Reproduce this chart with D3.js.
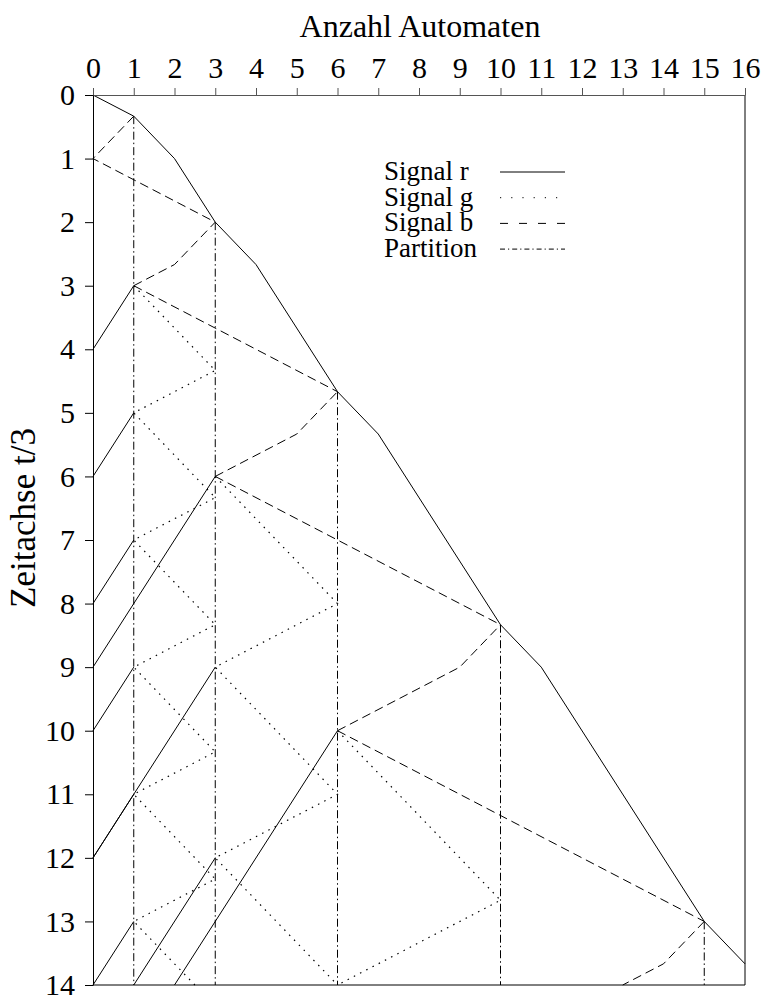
<!DOCTYPE html>
<html>
<head>
<meta charset="utf-8">
<script src="https://cdn.jsdelivr.net/npm/d3@7"></script>
<style>
  body { margin: 0; background: #fff; }
  text { font-family: "Liberation Serif", "Times New Roman", serif; fill: #000; }
</style>
</head>
<body>
<svg id="svg" width="765" height="996"></svg>
<script>
var xTicks = [0, 1, 2, 3, 4, 5, 6, 7, 8, 9, 10, 11, 12, 13, 14, 15, 16];
var yTicks = [0, 1, 2, 3, 4, 5, 6, 7, 8, 9, 10, 11, 12, 13, 14];

// signal r (solid)
var signalR = [
  [[0, 0], [1, 0.333], [2, 1], [3, 2], [4, 2.667], [6, 4.667], [7, 5.333], [10, 8.333], [11, 9], [15, 13], [16, 13.667]],
  [[0, 4], [1, 3]],
  [[0, 6], [1, 5]],
  [[0, 8], [1, 7]],
  [[0, 9], [3, 6]],
  [[0, 10], [1, 9]],
  [[0, 12], [1, 11]],
  [[0, 12], [3, 9]],
  [[0, 14], [1, 13]],
  [[1, 14], [3, 12]],
  [[2, 14], [6, 10]]
];

// signal g (dotted)
var signalG = [
  [[1, 3], [3, 4.333], [1, 5], [3, 6.333], [1, 7], [3, 8.333], [1, 9], [3, 10.333], [1, 11], [3, 12.333], [1, 13], [2.5, 14]],
  [[3, 6], [6, 8], [3, 9], [6, 11], [3, 12], [6, 14]],
  [[6, 10], [10, 12.667], [6, 14]]
];

// signal b (dashed)
var signalB = [
  [[1, 0.333], [0, 1], [3, 2]],
  [[1, 3], [2, 2.667], [3, 2]],
  [[1, 3], [6, 4.667]],
  [[3, 6], [5, 5.333], [6, 4.667]],
  [[3, 6], [10, 8.333]],
  [[6, 10], [9, 9], [10, 8.333]],
  [[6, 10], [15, 13]],
  [[15, 13], [14, 13.667], [13, 14]]
];

// partition boundaries (dash-dot), start point
var partitions = [[1, 0.333], [3, 2], [6, 4.667], [10, 8.333], [15, 13]];
var tEnd = 14;

var legendNames = ["Signal r", "Signal g", "Signal b", "Partition"];

var svg = d3.select("#svg");
var x = d3.scaleLinear().domain([0, 16]).range([93, 745]);
var y = d3.scaleLinear().domain([0, 14]).range([95, 985]);

var styles = {
  r: { dash: null, w: 1 },
  g: { dash: "1.5,5.5", w: 1.2 },
  b: { dash: "9,5", w: 1 },
  p: { dash: "8,3,1.5,3", w: 1 }
};

var line = d3.line()
  .x(function(d) { return x(d[0]); })
  .y(function(d) { return y(d[1]); });

function drawSet(data, st) {
  svg.append("g").selectAll("path").data(data).enter()
    .append("path")
    .attr("d", line)
    .attr("fill", "none")
    .attr("stroke", "#000")
    .attr("stroke-width", st.w)
    .attr("stroke-dasharray", st.dash);
}

drawSet(partitions.map(function(p) { return [p, [p[0], tEnd]]; }), styles.p);
drawSet(signalB, styles.b);
drawSet(signalG, styles.g);
drawSet(signalR, styles.r);

// frame
svg.append("line").attr("x1", x(16)).attr("x2", x(16)).attr("y1", y(0)).attr("y2", y(14))
  .attr("stroke", "#000");
svg.append("line").attr("x1", x(0)).attr("x2", x(16)).attr("y1", y(14)).attr("y2", y(14))
  .attr("stroke", "#000");

// axes
var topAxis = svg.append("g").attr("transform", "translate(0," + y(0) + ")")
  .call(d3.axisTop(x).tickValues(xTicks).tickSize(7).tickSizeOuter(0).tickPadding(10));
topAxis.select(".domain").attr("stroke", "#555");
topAxis.selectAll(".tick line").attr("stroke", "#555");
topAxis.selectAll("text").style("font-size", "30px").attr("font-family", null);

var leftAxis = svg.append("g").attr("transform", "translate(" + x(0) + ",0)")
  .call(d3.axisLeft(y).tickValues(yTicks).tickSize(8).tickSizeOuter(0).tickPadding(10));
leftAxis.selectAll("text").style("font-size", "30px").attr("font-family", null);

svg.append("text").attr("x", 420).attr("y", 37).attr("text-anchor", "middle")
  .style("font-size", "32px").text("Anzahl Automaten");

svg.append("text").attr("transform", "translate(35,518) rotate(-90)")
  .attr("text-anchor", "middle").style("font-size", "35px").text("Zeitachse t/3");

// legend
var legendDash = [null, "1.2,10", "8,11", "5,3,1.2,3"];
var lg = svg.append("g").selectAll("g").data(legendNames).enter().append("g")
  .attr("transform", function(d, i) { return "translate(384," + (180 + i * 25.7) + ")"; });
lg.append("text").style("font-size", "27px").text(function(d) { return d; });
lg.append("line").attr("x1", 116).attr("x2", 181).attr("y1", -8).attr("y2", -8)
  .attr("stroke", "#000")
  .attr("stroke-dasharray", function(d, i) { return legendDash[i]; });
</script>
</body>
</html>
